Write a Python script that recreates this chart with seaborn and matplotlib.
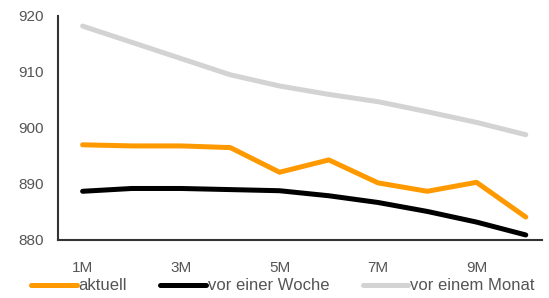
import numpy as np
import pandas as pd
import matplotlib
matplotlib.use("Agg")
import matplotlib.pyplot as plt
import seaborn as sns

# data
laufzeit = ["1M", "2M", "3M", "4M", "5M", "6M", "7M", "8M", "9M", "10M"]
aktuell = [897.0, 896.8, 896.8, 896.5, 892.1, 894.3, 890.2, 888.7, 890.3, 884.1]
vor_einer_woche = [888.7, 889.2, 889.2, 889.0, 888.8, 887.9, 886.7, 885.1, 883.2, 880.9]
vor_einem_monat = [918.2, 915.3, 912.4, 909.5, 907.5, 906.0, 904.7, 902.9, 901.0, 898.8]
serien = ["aktuell", "vor einer Woche", "vor einem Monat"]
farben = ["#FF9900", "#000000", "#D3D3D3"]
y_ticks = [880, 890, 900, 910, 920]

df = pd.DataFrame({
    "x": np.tile(np.arange(len(laufzeit)), 3),
    "wert": aktuell + vor_einer_woche + vor_einem_monat,
    "serie": np.repeat(serien, len(laufzeit)),
})

sns.set_style("white")
plt.rcParams["font.family"] = ["Liberation Sans", "DejaVu Sans"]

fig = plt.figure(figsize=(5.49, 2.98), dpi=100)
ax = fig.add_axes([58 / 549, 1 - 240 / 298, (542 - 58) / 549, (240 - 16) / 298])

sns.lineplot(data=df, x="x", y="wert", hue="serie", hue_order=serien,
             palette=farben, linewidth=3.6, ax=ax, legend=False,
             solid_capstyle="round")

ax.set_xlim(-0.5, 9.33)
ax.set_ylim(880, 920)
ax.set_yticks(y_ticks)
ax.set_yticklabels([str(v) for v in y_ticks])

# category labels every second month, tick marks between categories
ax.set_xticks(np.arange(0, 10, 2))
ax.set_xticklabels(laufzeit[::2])
ax.set_xticks(np.arange(1.5, 9, 2), minor=True)
ax.tick_params(axis="x", which="major", length=0, pad=15)
ax.tick_params(axis="x", which="minor", length=4, width=1.2, color="#333333", direction="out")
ax.tick_params(axis="y", length=4, width=1.2, color="#333333", direction="out", pad=6)
ax.tick_params(labelsize=11, labelcolor="#555555")
ax.set_xlabel("")
ax.set_ylabel("")

for s in ["top", "right"]:
    ax.spines[s].set_visible(False)
for s in ["left", "bottom"]:
    ax.spines[s].set_color("#333333")
    ax.spines[s].set_linewidth(1.5)

handles = [plt.Line2D([], [], color=c, linewidth=3.6, solid_capstyle="round") for c in farben]
fig.legend(handles, serien, loc="center left", bbox_to_anchor=(31 / 549, 1 - 286 / 298),
           ncol=3, frameon=False, fontsize=12, handlelength=2.75, handletextpad=0.1,
           columnspacing=2.0, borderpad=0, borderaxespad=0, labelcolor="#555555")

fig.savefig("out.png", dpi=100)
